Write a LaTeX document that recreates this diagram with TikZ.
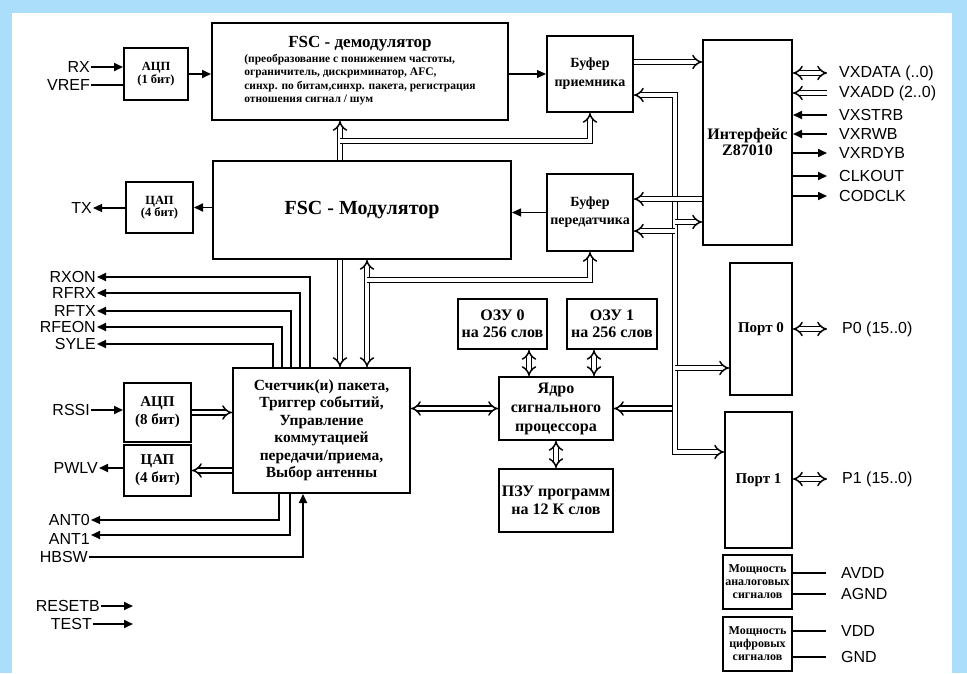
\documentclass[tikz,border=0pt]{standalone}
\usepackage{fontspec}
\setmainfont{Liberation Serif}
\setsansfont{Liberation Sans}
\usetikzlibrary{arrows.meta,positioning,calc}
\definecolor{frameblue}{RGB}{170,222,250}
\newcommand{\fsz}[2]{\fontsize{#1}{#2}\selectfont}

\begin{document}
\begin{tikzpicture}[x=1pt,y=-1pt,>={Triangle[length=9pt,width=8pt]},
	blk/.style={draw,line width=2pt,fill=white,inner sep=1pt,align=center},
	fs/.style 2 args={font=\bfseries\fsz{#1}{#2}},
	sig/.style={line width=1.7pt},
	thin sig/.style={line width=1.1pt},
	bus/.style={double,line width=1.5pt,double distance=3.4pt,>={Implies[scale=1.4]}},
	lbl/.style={font=\sffamily\fsz{16}{16},inner sep=1pt}]
	\fill[frameblue] (0,0) rectangle (967,673);
	\fill[white] (12,13) rectangle (952,673);
	\useasboundingbox (0,0) rectangle (967,673);
	
	\node[blk,fs={12.5}{12.5},minimum width=64pt,minimum height=52pt] (adc1) at (156,74) {АЦП\\(1 бит)};
	\node[blk,fs={17}{19},minimum width=296pt,minimum height=97pt] (demod) at (360,71.5) {FSC - демодулятор\\[1pt]
		\fsz{11.5}{13.5}\begin{tabular}{@{}l@{}}(преобразование с понижением частоты,\\ограничитель, дискриминатор, AFC,\\синхр. по битам,синхр. пакета, регистрация\\отношения сигнал / шум\end{tabular}};
	\node[blk,fs={14}{19},minimum width=86pt,minimum height=76pt] (bufrx) at (590,74) {Буфер\\приемника};
	\node[blk,fs={16}{16},minimum width=89pt,minimum height=205pt] (iface) at (747.5,142.5) {Интерфейс\\Z87010};
	\node[blk,fs={12.5}{12.5},minimum width=67pt,minimum height=51pt] (dac1) at (159.5,207.5) {ЦАП\\(4 бит)};
	\node[blk,fs={20}{22},minimum width=298pt,minimum height=98pt] (mod) at (362,210) {FSC - Модулятор};
	\node[blk,fs={14}{18},minimum width=86pt,minimum height=77pt] (buftx) at (590,212.5) {Буфер\\передатчика};
	\node[blk,fs={15.5}{17.5},minimum width=177pt,minimum height=125pt] (cnt) at (321.5,430.5) {Счетчик(и) пакета,\\Триггер событий,\\Управление\\коммутацией\\передачи/приема,\\Выбор антенны};
	\node[blk,fs={15}{18},minimum width=67pt,minimum height=59pt] (adc8) at (157.5,412.5) {АЦП\\(8 бит)};
	\node[blk,fs={15}{18},minimum width=67pt,minimum height=51pt] (dac4) at (157.5,470.5) {ЦАП\\(4 бит)};
	\node[blk,fs={16}{17},minimum width=89pt,minimum height=50pt] (ozu0) at (502.5,324) {ОЗУ 0\\на 256 слов};
	\node[blk,fs={16}{17},minimum width=90pt,minimum height=50pt] (ozu1) at (612,324) {ОЗУ 1\\на 256 слов};
	\node[blk,fs={16}{19},minimum width=114pt,minimum height=63pt] (core) at (556,408.5) {Ядро\\сигнального\\процессора};
	\node[blk,fs={16}{18},minimum width=114pt,minimum height=63pt] (pzu) at (556,500.5) {ПЗУ программ\\на 12 К слов};
	\node[blk,fs={15}{16},minimum width=62pt,minimum height=132pt] (port0) at (761,329) {Порт 0};
	\node[blk,fs={15}{16},minimum width=67pt,minimum height=136pt] (port1) at (758.5,480) {Порт 1};
	\node[blk,fs={12}{13},minimum width=69pt,minimum height=54pt] (pwra) at (757.5,582) {Мощность\\аналоговых\\сигналов};
	\node[blk,fs={12}{13},minimum width=69pt,minimum height=54pt] (pwrd) at (757.5,644) {Мощность\\цифровых\\сигналов};
	
	\node[lbl,anchor=east] (rx) at (91,67) {RX};
	\node[lbl,anchor=east] (vref) at (91,85) {VREF};
	\draw[sig,->] (rx.east) -- (rx.east -| adc1.west);
	\draw[sig] (vref.east) -- (vref.east -| adc1.west);
	\node[lbl,anchor=east] (tx) at (93,208) {TX};
	\draw[thin sig,->] (dac1.west |- tx.east) -- (tx.east);
	\draw[sig,->] (adc1.east) -- (adc1.east -| demod.west);
	\draw[thin sig,->] (demod.east |- bufrx.west) -- (bufrx.west);
	\draw[sig,->] (mod.west |- dac1.east) -- (dac1.east);
	\draw[thin sig,->] (buftx.west) -- (buftx.west -| mod.east);
	
	\foreach \txt/\yy/\xx/\lw [count=\i] in {RXON/277/310/1.8,RFRX/293/300/1.1,RFTX/311/291/1.8,RFEON/327/282/1.8,SYLE/344/273/1.8}
	{\node[lbl,anchor=east] (L-\i) at (97,\yy) {\txt};
		\draw[line width=\lw pt,->] (cnt.north -| \xx,0) |- (L-\i.east);}
	
	\node[lbl,anchor=east] (ant0) at (91,520) {ANT0};
	\node[lbl,anchor=east] (ant1) at (91,539) {ANT1};
	\node[lbl,anchor=east] (hbsw) at (89,557) {HBSW};
	\draw[thin sig,->] (cnt.south -| 279,0) |- (ant0.east);
	\draw[sig,->] (cnt.south -| 290,0) |- ([yshift=4pt]ant1.east);
	\draw[sig,->] (hbsw.east) -| (cnt.south -| 303,0);
	
	\node[lbl,anchor=east] (rst) at (101,606) {RESETB};
	\node[lbl,anchor=east] (tst) at (93,624) {TEST};
	\coordinate (rst-e) at (133,606);
	\coordinate (tst-e) at (133,624);
	\draw[sig,->] (rst.east) -- (rst-e);
	\draw[sig,->] (tst.east) -- (tst-e);
	
	\node[lbl,anchor=east] (rssi) at (91,410) {RSSI};
	\draw[sig,->] (rssi.east) -- (rssi.east -| adc8.west);
	\node[lbl,anchor=east] (pwlv) at (99,468) {PWLV};
	\draw[sig,->] (dac4.west |- pwlv.east) -- (pwlv.east);
	
	\coordinate (j-rx) at (340,141);
	\coordinate (j-tx) at (367,280);
	\draw[bus,<-] (demod.south -| 340,0) -- (mod.north -| 340,0);
	\draw[bus,->] (mod.south -| 340,0) -- (cnt.north -| 340,0);
	\draw[bus,->] (j-rx) -| (bufrx.south);
	\draw[bus,<->] (mod.south -| 367,0) -- (cnt.north -| 367,0);
	\draw[bus,->] (j-tx) -| (buftx.south);
	\draw[bus,->] (adc8.east) -- (adc8.east -| cnt.west);
	\draw[bus,->] (cnt.west |- dac4.east) -- (dac4.east);
	\draw[bus,<->] (cnt.east |- core.west) -- (core.west);
	\draw[bus,<->] (ozu0.south -| 529,0) -- (core.north -| 529,0);
	\draw[bus,<->] (ozu1.south -| 594,0) -- (core.north -| 594,0);
	\draw[bus,<->] (core.south) -- (pzu.north);
	
	\coordinate (j-top) at (675,95);
	\coordinate (j-if) at (675,222);
	\coordinate (j-tx2) at (675,231);
	\coordinate (j-p0) at (675,368);
	\coordinate (j-p1) at (675,404);
	\draw[bus,<->] (core.east) -| (j-top) -- (bufrx.east |- j-top);
	\draw[bus,->] (j-p1) |- (port1.west |- 0,452);
	\draw[bus,->] (j-p0) -- (port0.west |- j-p0);
	\draw[bus,->] (j-if) -- (iface.west |- j-if);
	\draw[bus,->] (j-tx2) -- (buftx.east |- j-tx2);
	\draw[bus,->] (iface.west |- 0,199) -- (buftx.east |- 0,199);
	\draw[bus,->] (bufrx.east |- 0,62) -- (iface.west |- 0,62);
	
	\foreach \txt/\yy [count=\i] in {VXDATA (..0)/73,VXADD (2..0)/93,VXSTRB/115,VXRWB/134,VXRDYB/153,CLKOUT/176,CODCLK/196}
	\node[lbl,anchor=west] (V-\i) at (838,\yy) {\txt};
	\draw[bus,<->] (iface.east |- V-1.west) -- ([xshift=-11pt]V-1.west);
	\draw[bus,<-] (iface.east |- V-2.west) -- ([xshift=-11pt]V-2.west);
	\foreach \i in {3,4} \draw[sig,<-] (iface.east |- V-\i.west) -- ([xshift=-11pt]V-\i.west);
	\foreach \i in {5,6,7} \draw[sig,->] (iface.east |- V-\i.west) -- ([xshift=-11pt]V-\i.west);
	
	\node[lbl,anchor=west] (p0) at (841,329) {P0 (15..0)};
	\node[lbl,anchor=west] (p1) at (841,479) {P1 (15..0)};
	\draw[bus,<->] (port0.east) -- ([xshift=-14pt]p0.west);
	\draw[bus,<->] (port1.east |- p1.west) -- ([xshift=-14pt]p1.west);
	
	\node[lbl,anchor=west] (avdd) at (840,573) {AVDD};
	\node[lbl,anchor=west] (agnd) at (840,594) {AGND};
	\node[lbl,anchor=west] (vdd) at (840,631) {VDD};
	\node[lbl,anchor=west] (gnd) at (840,657) {GND};
	\draw[sig] (pwra.east |- avdd.west) -- ([xshift=-14pt]avdd.west);
	\draw[sig] (pwra.east |- agnd.west) -- ([xshift=-14pt]agnd.west);
	\draw[thin sig] (pwrd.east |- vdd.west) -- ([xshift=-14pt]vdd.west);
	\draw[thin sig] (pwrd.east |- gnd.west) -- ([xshift=-14pt]gnd.west);
\end{tikzpicture}
\end{document}
